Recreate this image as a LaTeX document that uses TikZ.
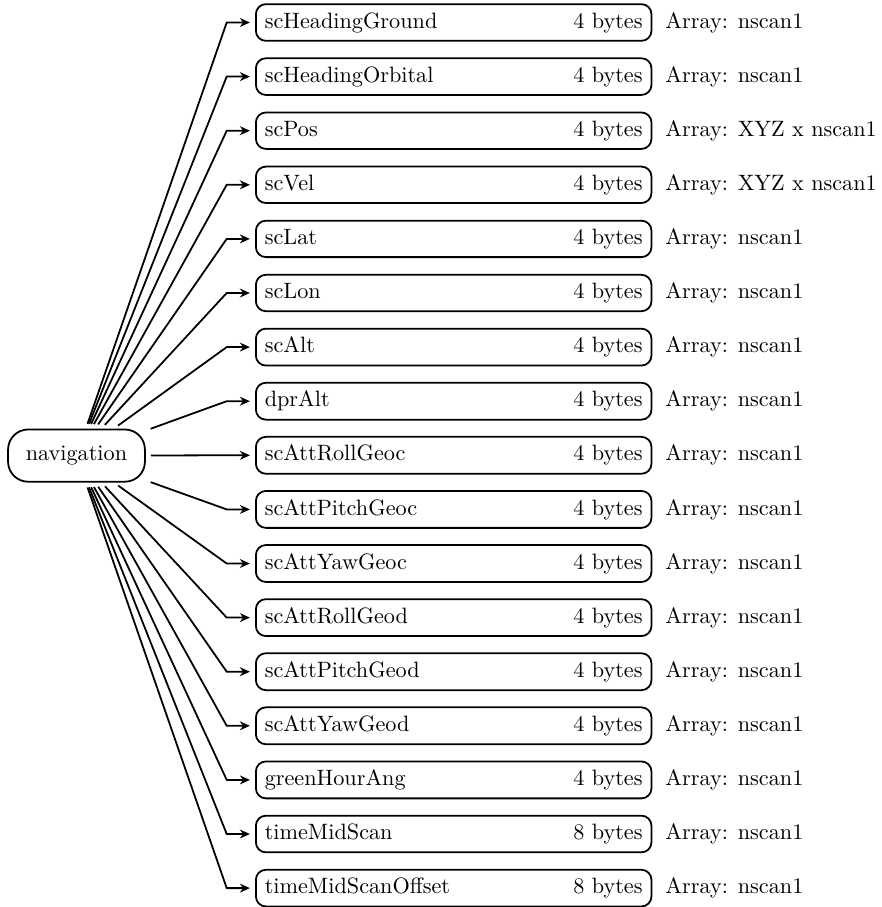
\documentclass[tikz,border=0pt]{standalone}
\usetikzlibrary{arrows.meta}
\begin{document}
\begin{tikzpicture}[x=0.45pt,y=-0.45pt,
  field/.style={draw,thick,rounded corners=4.5pt,anchor=west,inner xsep=4pt,inner ysep=3.7pt},
  root/.style={draw,thick,rounded corners=9pt,inner xsep=8pt,minimum height=23.5pt},
  info/.style={anchor=base west,inner sep=0pt},
  link/.style={thick,-{Stealth[length=4.5pt,width=4pt]},shorten <=2.3pt,shorten >=2.3pt}]
\useasboundingbox (0,0) rectangle (882,907);
\node[root] (nav) at (76.5,455.6) {navigation};
\foreach [count=\i] \name/\size/\arr in {
  scHeadingGround/4/nscan1,
  scHeadingOrbital/4/nscan1,
  scPos/4/XYZ x nscan1,
  scVel/4/XYZ x nscan1,
  scLat/4/nscan1,
  scLon/4/nscan1,
  scAlt/4/nscan1,
  dprAlt/4/nscan1,
  scAttRollGeoc/4/nscan1,
  scAttPitchGeoc/4/nscan1,
  scAttYawGeoc/4/nscan1,
  scAttRollGeod/4/nscan1,
  scAttPitchGeod/4/nscan1,
  scAttYawGeod/4/nscan1,
  greenHourAng/4/nscan1,
  timeMidScan/8/nscan1,
  timeMidScanOffset/8/nscan1} {
  \pgfmathsetmacro\yy{22.5+54.1*(\i-1)}
  \node[field] (f\i) at (255,\yy) {\makebox[170pt][l]{\name\hfill\size{} bytes}};
  \node[info] (a\i) at ([xshift=5.7pt]f\i.base east) {Array: \arr};
  \coordinate (k\i) at (226.7,\yy);
  \draw[link] (nav) -- (k\i) -- (f\i.west);
}
\end{tikzpicture}
\end{document}
